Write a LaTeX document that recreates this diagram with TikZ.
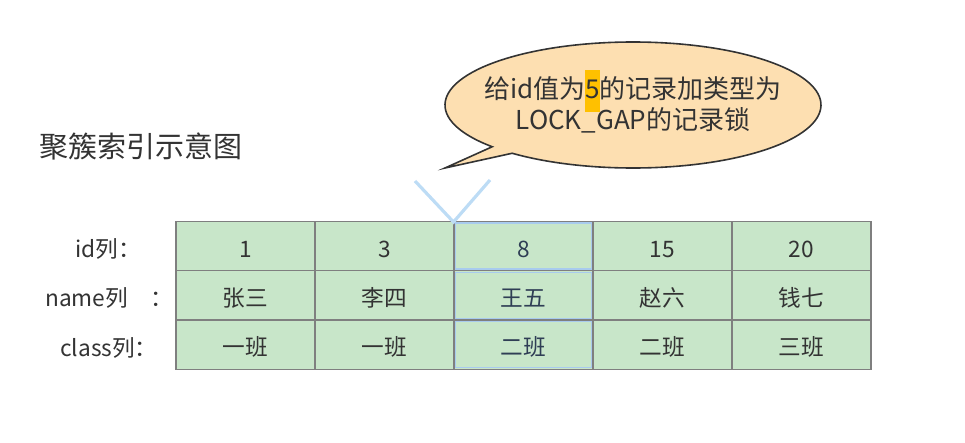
\documentclass[tikz,border=0pt]{standalone}
\usepackage{fontspec}
\usetikzlibrary{calc}
\setmainfont{Noto Sans CJK SC}
\newfontfamily\cjk{Noto Sans CJK SC}
\definecolor{txt}{HTML}{333333}
\definecolor{seltxt}{HTML}{2F3E55}
\definecolor{gridc}{HTML}{7F7F7F}
\definecolor{cellg}{HTML}{C8E6C9}
\definecolor{lblue}{HTML}{A8CBEE}
\definecolor{vblue}{HTML}{BDDCF5}
\definecolor{bubblef}{HTML}{FDDFB1}
\definecolor{hl}{HTML}{FFC000}
\begin{document}
\begin{tikzpicture}[x=0.75pt,y=-0.75pt,
  cell/.style={draw=gridc, fill=cellg, line width=0.9pt,
    minimum width=104.25pt, minimum height=37pt, inner sep=0pt,
    text height=16.5pt, text depth=0pt, text=txt,
    font=\cjk\fontsize{17pt}{20pt}\selectfont},
  selcell/.style={draw=lblue, line width=0.9pt, minimum width=101.5pt, minimum height=34.4pt, inner sep=0pt},
  lbl/.style={anchor=base west, inner sep=0pt, text=txt, font=\cjk\fontsize{17pt}{20pt}\selectfont},
  btxt/.style={anchor=base, inner sep=0pt, text=txt, font=\cjk\fontsize{19.5pt}{23pt}\selectfont}]
\useasboundingbox (0,0) rectangle (965,443);
% title
\node[anchor=base west, inner sep=0pt, text=txt, font=\cjk\fontsize{21.75pt}{26pt}\selectfont] (title) at (39,157) {聚簇索引示意图};
% bubble
\coordinate (bc) at (633,105);
\coordinate (tip) at (445,168);
\path[fill=bubblef, draw=txt, line width=1.2pt, line join=miter]
  (tip) -- ($(bc)+(138.5:188 and 63)$) arc[start angle=138.5, end angle=490, x radius=188, y radius=63] -- cycle;
\node[btxt] (b1) at (633,98) {给id值为{\setlength\fboxsep{0pt}\smash{\colorbox{hl}{\rule[-0.54em]{0pt}{1.63em}5}}}的记录加类型为};
\node[btxt] (b2) at (633,129) {LOCK\_GAP的记录锁};
% V marker
\coordinate (va) at (415,181);
\coordinate (vb) at (453.5,222);
\coordinate (vc) at (490,180);
% table
\node[cell] (c11) at (245.5,246) {1};
\node[cell] (c12) at (245.5,295.3) {张三};
\node[cell] (c13) at (245.5,344.6) {一班};
\node[cell] (c21) at (384.5,246) {3};
\node[cell] (c22) at (384.5,295.3) {李四};
\node[cell] (c23) at (384.5,344.6) {一班};
\node[cell, text=seltxt] (c31) at (523.5,246) {8};
\node[cell, text=seltxt] (c32) at (523.5,295.3) {王五};
\node[cell, text=seltxt] (c33) at (523.5,344.6) {二班};
\node[cell] (c41) at (662.5,246) {15};
\node[cell] (c42) at (662.5,295.3) {赵六};
\node[cell] (c43) at (662.5,344.6) {二班};
\node[cell] (c51) at (801.5,246) {20};
\node[cell] (c52) at (801.5,295.3) {钱七};
\node[cell] (c53) at (801.5,344.6) {三班};
\node[selcell] (s1) at (c31) {};
\node[selcell] (s2) at (c32) {};
\node[selcell] (s3) at (c33) {};
\draw[vblue, line width=2.4pt] (va) -- (vb) -- (vc);
% labels
\node[lbl] (lid) at (75,257) {id列：};
\node[lbl] (lname) at (45,306) {name列\hspace{1em}：};
\node[lbl] (lclass) at (60,356) {class列：};
\end{tikzpicture}
\end{document}
